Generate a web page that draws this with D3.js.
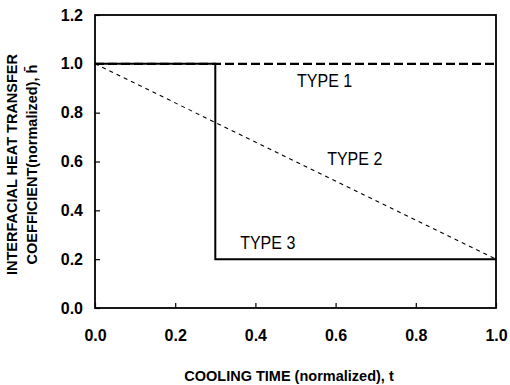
<!DOCTYPE html>
<html>
<head>
<meta charset="utf-8">
<script src="https://cdn.jsdelivr.net/npm/d3@7"></script>
<style>
  body { margin: 0; background: #fff; }
  text { font-family: "Liberation Sans", Arial, sans-serif; fill: #000; }
</style>
</head>
<body>
<div id="viz"></div>
<script>
// Chart data (normalized cooling time t vs normalized h)
const xTicks = [0.0, 0.2, 0.4, 0.6, 0.8, 1.0];
const yTicks = [0.0, 0.2, 0.4, 0.6, 0.8, 1.0, 1.2];

const type1 = [[0.0, 1.0], [1.0, 1.0]];
const type2 = [[0.0, 1.0], [1.0, 0.2]];
const type3 = [[0.0, 1.0], [0.3, 1.0], [0.3, 0.2], [1.0, 0.2]];

const labelText = ["TYPE 1", "TYPE 2", "TYPE 3"];
const labelAt = [[0.504, 0.905], [0.579, 0.586], [0.362, 0.242]];

const dims = {
    width: 510,
    height: 385,
    margin: { top: 15, right: 14, bottom: 77, left: 95 }
};

const svg = d3.select("#viz")
    .append("svg")
    .attr("width", dims.width)
    .attr("height", dims.height);

const x = d3.scaleLinear()
    .domain([0, 1])
    .range([dims.margin.left, dims.width - dims.margin.right]);

const y = d3.scaleLinear()
    .domain([0, 1.2])
    .range([dims.height - dims.margin.bottom, dims.margin.top]);

// axes with inward ticks
const xAxis = svg.append("g")
    .attr("transform", `translate(0,${y(0)})`)
    .call(d3.axisBottom(x).tickValues(xTicks).tickSize(-5).tickPadding(22)
        .tickFormat(d3.format(".1f")));
xAxis.select(".domain").remove();

const yAxis = svg.append("g")
    .attr("transform", `translate(${x(0)},0)`)
    .call(d3.axisLeft(y).tickValues(yTicks).tickSize(-5).tickPadding(12)
        .tickFormat(d3.format(".1f")));
yAxis.select(".domain").remove();

svg.selectAll(".tick line").attr("stroke", "#000").attr("stroke-width", 1.2);
svg.selectAll(".tick text")
    .attr("font-size", "16px")
    .attr("font-weight", "bold")
    .style("font-family", "'Liberation Sans', Arial, sans-serif");

// frame
svg.append("rect")
    .attr("x", x(0))
    .attr("y", y(1.2))
    .attr("width", x(1) - x(0))
    .attr("height", y(0) - y(1.2))
    .attr("fill", "none")
    .attr("stroke", "#000")
    .attr("stroke-width", 1.8);

const line = d3.line().x(d => x(d[0])).y(d => y(d[1]));

// TYPE 3 - solid step
svg.append("path")
    .attr("d", line(type3))
    .attr("fill", "none")
    .attr("stroke", "#000")
    .attr("stroke-width", 2);

// TYPE 2 - thin dashed ramp
svg.append("path")
    .attr("d", line(type2))
    .attr("fill", "none")
    .attr("stroke", "#000")
    .attr("stroke-width", 1.1)
    .attr("stroke-dasharray", "4,4");

// TYPE 1 - heavy dashed constant
svg.append("path")
    .attr("d", line(type1))
    .attr("fill", "none")
    .attr("stroke", "#000")
    .attr("stroke-width", 2.2)
    .attr("stroke-dasharray", "9,4");

// curve labels
labelText.forEach((t, i) => {
    svg.append("text")
        .attr("transform", `translate(${x(labelAt[i][0])},${y(labelAt[i][1])}) scale(1,1.17)`)
        .attr("font-size", "16px")
        .text(t);
});

// axis titles
svg.append("text")
    .attr("x", 289)
    .attr("y", 381)
    .attr("text-anchor", "middle")
    .attr("font-size", "14.5px")
    .attr("font-weight", "bold")
    .text("COOLING TIME (normalized), t");

const yTitle = svg.append("text")
    .attr("transform", `translate(0,${(y(0) + y(1.2)) / 2 + 3}) rotate(-90)`)
    .attr("text-anchor", "middle")
    .attr("font-size", "14.5px")
    .attr("font-weight", "bold");
yTitle.append("tspan").attr("x", 0).attr("y", 17).text("INTERFACIAL HEAT TRANSFER");
yTitle.append("tspan").attr("x", 0).attr("y", 37).text("COEFFICIENT(normalized), h\u0304");
</script>
</body>
</html>
